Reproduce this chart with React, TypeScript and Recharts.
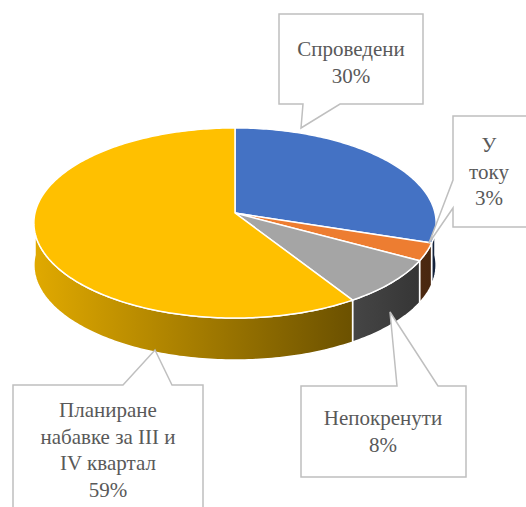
import React from "react";
import { PieChart, Pie, Cell } from "recharts";

const CATEGORIES = [
  "Спроведени",
  "У току",
  "Непокренути",
  "Планиране набавке за III и IV квартал",
];
const VALUES = [30, 3, 8, 59];
const LABEL_LINES = [
  ["Спроведени"],
  ["У", "току"],
  ["Непокренути"],
  ["Планиране", "набавке за III и", "IV квартал"],
];
const COLORS = ["#4472C4", "#ED7D31", "#A5A5A5", "#FFC000"];

const data = CATEGORIES.map((name, i) => ({ name, value: VALUES[i] }));
const TOTAL = VALUES.reduce((a, b) => a + b, 0);

// perspective of the tilted disc
const RX = 200;
const RY = 94;
const K = 0.105;
const DEPTH = 42;

// callout boxes: rect, pointer edge, pointer base (a..b), tip
const CALLOUTS = [
  { x: 279, y: 14, w: 144, h: 90, edge: "bottom", a: 303, b: 340, tx: 301, ty: 128, cx: 351, base: 56 },
  { x: 453, y: 116, w: 80, h: 111, edge: "left", a: 180, b: 208, tx: 429, ty: 243, cx: 489, base: 152 },
  { x: 301, y: 386, w: 165, h: 91, edge: "top", a: 397, b: 438, tx: 390, ty: 312, cx: 383, base: 425 },
  { x: 13, y: 385, w: 190, h: 130, edge: "top", a: 123, b: 172, tx: 155, ty: 350, cx: 108, base: 417 },
];

function rim(cx: number, cy: number, deg: number, dy = 0): [number, number] {
  const t = (deg * Math.PI) / 180;
  const u = Math.cos(t);
  const v = Math.sin(t);
  const d = 1 + K * v;
  return [cx + (RX * u) / d, cy - (RY * v) / d + dy];
}

function arcPts(cx: number, cy: number, from: number, to: number, dy = 0) {
  const pts: string[] = [];
  const n = Math.max(2, Math.ceil(Math.abs(from - to)));
  for (let i = 0; i <= n; i++) {
    const a = from + ((to - from) * i) / n;
    const [x, y] = rim(cx, cy, a, dy);
    pts.push(`${x.toFixed(2)},${y.toFixed(2)}`);
  }
  return pts;
}

function shade(hex: string, f: number) {
  const n = parseInt(hex.slice(1), 16);
  const r = Math.round(((n >> 16) & 255) * f);
  const g = Math.round(((n >> 8) & 255) * f);
  const b = Math.round((n & 255) * f);
  return `rgb(${r},${g},${b})`;
}

function Slice(props: any) {
  const { cx, cy, startAngle, endAngle, fill } = props;
  const s = Math.max(startAngle, endAngle);
  const e = Math.min(startAngle, endAngle);
  const top = `M${cx},${cy} L${arcPts(cx, cy, s, e).join(" L")} Z`;
  const hi = Math.min(s, 0);
  const lo = Math.max(e, -180);
  const id = `side${String(fill).replace("#", "")}`;
  let side = null;
  if (hi > lo) {
    const front = arcPts(cx, cy, hi, lo);
    const back = arcPts(cx, cy, lo, hi, DEPTH);
    side = (
      <path
        d={`M${front.join(" L")} L${back.join(" L")} Z`}
        fill={`url(#${id})`}
        stroke="#fff"
        strokeWidth={1.5}
        strokeLinejoin="round"
      />
    );
  }
  return (
    <g>
      <defs>
        <linearGradient id={id} gradientUnits="userSpaceOnUse" x1={cx - RX} y1={0} x2={cx + RX} y2={0}>
          <stop offset="0" stopColor={shade(fill, 0.88)} />
          <stop offset="1" stopColor={shade(fill, 0.3)} />
        </linearGradient>
      </defs>
      {side}
      <path d={top} fill={fill} stroke="#fff" strokeWidth={1.5} strokeLinejoin="round" />
    </g>
  );
}

function calloutPath(i: number) {
  const c = CALLOUTS[i];
  const x1 = c.x + c.w;
  const y1 = c.y + c.h;
  if (c.edge === "top") {
    return `M${c.x},${c.y} L${c.a},${c.y} L${c.tx},${c.ty} L${c.b},${c.y} L${x1},${c.y} L${x1},${y1} L${c.x},${y1} Z`;
  }
  if (c.edge === "bottom") {
    return `M${c.x},${c.y} L${x1},${c.y} L${x1},${y1} L${c.b},${y1} L${c.tx},${c.ty} L${c.a},${y1} L${c.x},${y1} Z`;
  }
  return `M${c.x},${c.y} L${x1},${c.y} L${x1},${y1} L${c.x},${y1} L${c.x},${c.b} L${c.tx},${c.ty} L${c.x},${c.a} Z`;
}

export default function App() {
  return (
    <div style={{ position: "absolute", left: 0, top: 0, width: 526, height: 507, background: "#fff", overflow: "hidden" }}>
      <PieChart width={526} height={507} margin={{ top: 0, right: 0, bottom: 0, left: 0 }}>
        <Pie
          data={data}
          dataKey="value"
          nameKey="name"
          cx={235}
          cy={213}
          outerRadius={RX}
          startAngle={90}
          endAngle={-270}
          stroke="none"
          isAnimationActive={false}
          shape={Slice}
          inactiveShape={Slice}
          activeShape={Slice}
          label={false}
          labelLine={false}
        >
          {data.map((_, i) => (
            <Cell key={i} fill={COLORS[i]} />
          ))}
        </Pie>
      </PieChart>
      <svg width={526} height={507} style={{ position: "absolute", left: 0, top: 0, pointerEvents: "none" }}>
        <style>{`.callout-text { font-family: "Liberation Serif", "Times New Roman", serif !important; font-size: 21px; }`}</style>
        {CATEGORIES.map((_, i) => {
          const c = CALLOUTS[i];
          const lines = [...LABEL_LINES[i], `${Math.round((VALUES[i] / TOTAL) * 100)}%`];
          return (
            <g key={i}>
              <path d={calloutPath(i)} fill="#fff" stroke="#bfbfbf" strokeWidth={1.5} />
              {lines.map((t, k) => (
                <text
                  key={k}
                  className="callout-text"
                  x={c.cx}
                  y={c.base + k * 26.5}
                  textAnchor="middle"
                  fill="#595959"
                  fontFamily="Liberation Serif"
                >
                  {t}
                </text>
              ))}
            </g>
          );
        })}
      </svg>
    </div>
  );
}
